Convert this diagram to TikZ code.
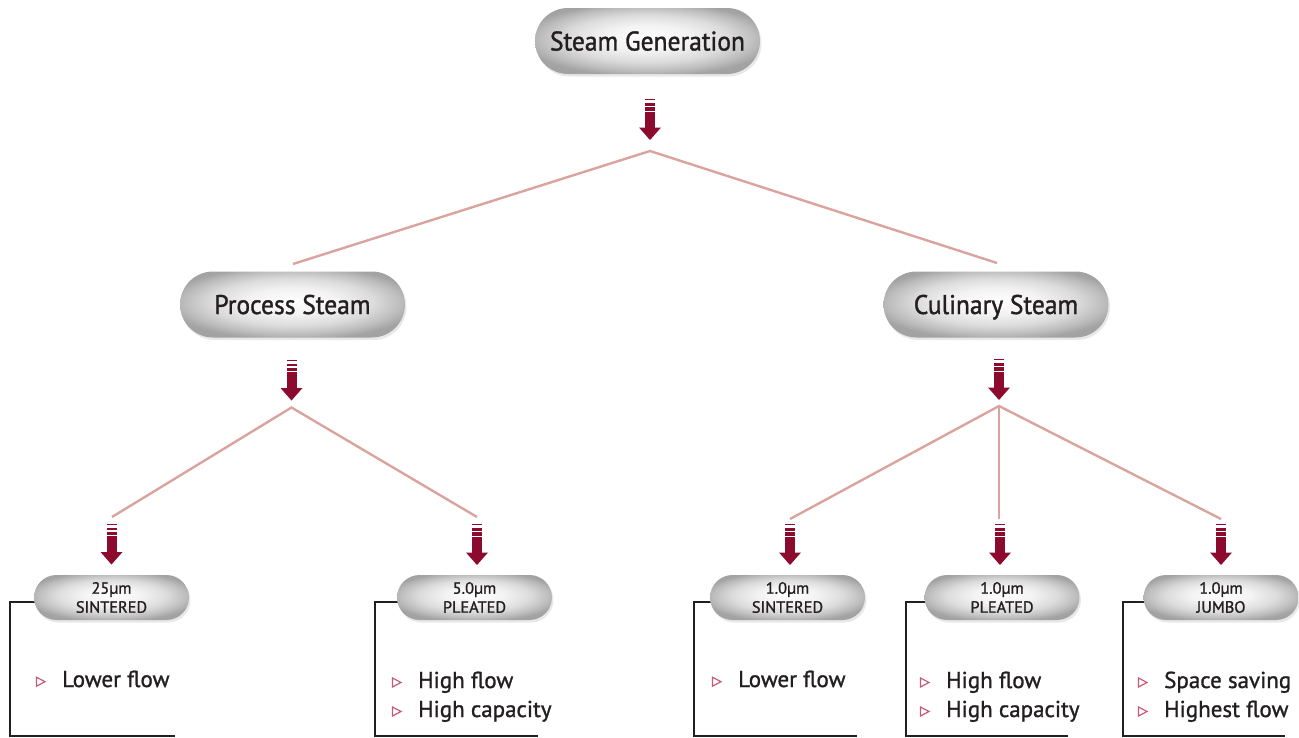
\documentclass[tikz,border=0pt]{standalone}
\usepackage{fontspec}
\setmainfont{PT Sans}
\newfontfamily\labelfont{PT Sans}[FakeBold=1.3, FakeStretch=0.945]
\newfontfamily\itemfont{PT Sans}[FakeBold=1.2]
\usetikzlibrary{shadows,backgrounds}
\definecolor{pinkline}{RGB}{219,163,158}
\definecolor{crimson}{RGB}{140,10,45}
\definecolor{bulletpink}{RGB}{200,90,120}
\definecolor{ink}{RGB}{35,31,32}
\pgfdeclareradialshading{pillshade}{\pgfpoint{0bp}{3bp}}{%
  color(0bp)=(white);
  color(10bp)=(white!95!black);
  color(18bp)=(white!86!black);
  color(24bp)=(white!74!black);
  color(28bp)=(white!64!black);
  color(50bp)=(white!60!black)}
\begin{document}
\begin{tikzpicture}[x=1pt,y=-1pt,
  pillbase/.style={rectangle, inner sep=0pt, text=ink, shading=pillshade,
    drop shadow={shadow xshift=1.5pt, shadow yshift=-2.5pt, opacity=0.18}},
  bigpill/.style={pillbase, minimum width=225pt, minimum height=66pt,
    rounded corners=33pt, text height=19pt, text depth=0pt,
    font=\labelfont\fontsize{27}{30}\selectfont},
  smallpill/.style={pillbase, minimum width=155pt, minimum height=45pt,
    rounded corners=22.5pt, align=center,
    font=\itemfont\fontsize{16.3}{19}\selectfont},
  branch/.style={pinkline, line width=2.4pt},
  bracket/.style={ink, line width=2.6pt},
  item/.style={anchor=base west, inner sep=0pt, text=ink,
    font=\itemfont\fontsize{23}{25}\selectfont},
  downarrow/.pic={
    \fill[crimson] (-5,-41) rectangle (5,-39.7);
    \fill[crimson] (-5,-37) rectangle (5,-34.5);
    \fill[crimson] (-5,-33) rectangle (5,-29.5);
    \fill[crimson] (-5,-28.2) rectangle (5,-12);
    \fill[crimson] (-11,-12.5) -- (11,-12.5) -- (0,0) -- cycle;
  },
  bullet/.pic={
    \draw[bulletpink, line width=1.2pt, line join=miter] (-4,-4.5) -- (4.5,0) -- (-4,4.5) -- cycle;
  }]
\useasboundingbox (0,0) rectangle (1299,737);

% top level and the two steam kinds
\node[bigpill] (sg) at (647.5,41) {Steam Generation};
\node[bigpill] (ps) at (292.5,304.5) {Process Steam};
\node[bigpill] (cs) at (996,304.5) {Culinary Steam};

% filter element pills
\node[smallpill] (f1) at (111.5,597.5) {25µm\\SINTERED};
\node[smallpill] (f2) at (474.5,597.5) {5.0µm\\PLEATED};
\node[smallpill] (f3) at (787.5,597.5) {1.0µm\\SINTERED};
\node[smallpill] (f4) at (1002,597.5) {1.0µm\\PLEATED};
\node[smallpill] (f5) at (1221,597.5) {1.0µm\\JUMBO};

% branching points and line ends
\coordinate (j0) at (650,151);
\coordinate (j1) at (291.5,407.5);
\coordinate (j2) at (999,406);
\coordinate (l1) at (293,264);
\coordinate (l2) at (997,263);
\coordinate (m1) at (112,517);
\coordinate (m2) at (477,517);
\coordinate (m3) at (790,519);
\coordinate (m4) at (999,519);
\coordinate (m5) at (1221,519);

\draw[branch] (l1) -- (j0) -- (l2);
\draw[branch] (m1) -- (j1) -- (m2);
\draw[branch] (m3) -- (j2) -- (m5);
\draw[branch] (j2) -- (m4);

% flow arrows
\pic at (650,140) {downarrow};
\pic at (291.5,400.5) {downarrow};
\pic at (999,400) {downarrow};
\pic at (111.5,564.5) {downarrow};
\pic at (477,565) {downarrow};
\pic at (790,565) {downarrow};
\pic at (1000,565) {downarrow};
\pic at (1221,565) {downarrow};

% brackets under each filter
\coordinate (c1) at (10,735.8);   \coordinate (e1) at (175,735.8);
\coordinate (c2) at (375,735.8);  \coordinate (e2) at (538,735.8);
\coordinate (c3) at (694,735.8);  \coordinate (e3) at (857,735.8);
\coordinate (c4) at (906,735.8);  \coordinate (e4) at (1068,735.8);
\coordinate (c5) at (1123,735.8); \coordinate (e5) at (1285,735.8);
\begin{pgfonlayer}{background}
  \draw[bracket] ([xshift=8pt,yshift=-4.5pt]f1.west) -| (c1) -- (e1);
  \draw[bracket] ([xshift=8pt,yshift=-4.5pt]f2.west) -| (c2) -- (e2);
  \draw[bracket] ([xshift=8pt,yshift=-4.5pt]f3.west) -| (c3) -- (e3);
  \draw[bracket] ([xshift=8pt,yshift=-4.5pt]f4.west) -| (c4) -- (e4);
  \draw[bracket] ([xshift=8pt,yshift=-4.5pt]f5.west) -| (c5) -- (e5);
\end{pgfonlayer}

% feature lists
\node[item] (t1) at (62,687) {Lower flow};
\node[item] (t2a) at (418,688) {High flow};
\node[item] (t2b) at (418,717) {High capacity};
\node[item] (t3) at (738,687) {Lower flow};
\node[item] (t4a) at (946,688) {High flow};
\node[item] (t4b) at (946,717) {High capacity};
\node[item] (t5a) at (1164,688) {Space saving};
\node[item] (t5b) at (1164,717) {Highest flow};

\pic at (40.5,681.7) {bullet};
\pic at (396.5,682.5) {bullet};
\pic at (396.5,711.5) {bullet};
\pic at (716.5,681.7) {bullet};
\pic at (924.5,682.5) {bullet};
\pic at (924.5,711.5) {bullet};
\pic at (1142.5,682.5) {bullet};
\pic at (1142.5,711.5) {bullet};
\end{tikzpicture}
\end{document}
